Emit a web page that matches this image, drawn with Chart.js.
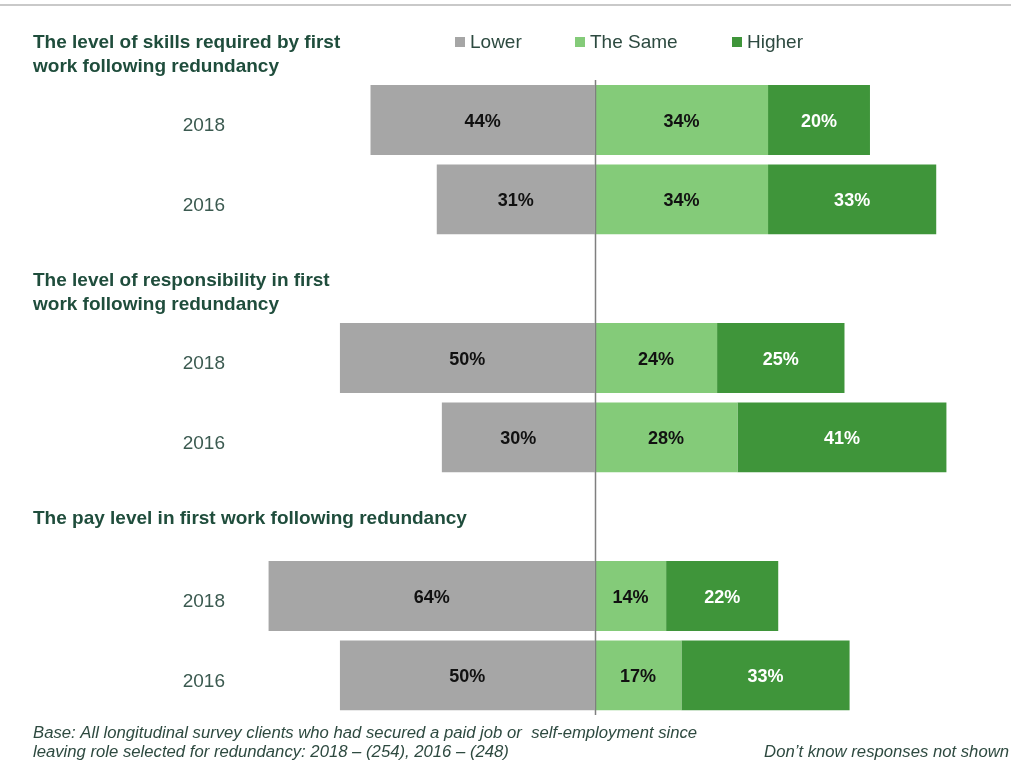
<!DOCTYPE html>
<html>
<head>
<meta charset="utf-8">
<script src="https://cdn.jsdelivr.net/npm/chart.js@4.4.1/dist/chart.umd.min.js"></script>
<style>
  html, body { margin: 0; padding: 0; background: #fff; }
  #wrap { position: relative; width: 1011px; height: 765px; }
</style>
</head>
<body>
<div id="wrap"><canvas id="bar-chart"></canvas></div>
<script>
// question headings, one per group of two years
const groupTitles = [
  ['The level of skills required by first', 'work following redundancy'],
  ['The level of responsibility in first', 'work following redundancy'],
  ['The pay level in first work following redundancy']
];
const years = ['2018', '2016'];

// percentages per group, 2018 then 2016
const lowerPct = [44, 31, 50, 30, 64, 50];
const samePct = [34, 34, 24, 28, 14, 17];
const higherPct = [20, 33, 25, 41, 22, 33];

const seriesNames = ['Lower', 'The Same', 'Higher'];
const seriesColors = ['#a6a6a6', '#84cb79', '#3f953a'];

const footLeft = [
  'Base: All longitudinal survey clients who had secured a paid job or  self-employment since',
  'leaving role selected for redundancy: 2018 \u2013 (254), 2016 \u2013 (248)'
];
const footRight = 'Don\u2019t know responses not shown';

const FONT = "'Liberation Sans', Arial, sans-serif";
const TITLE_COLOUR = '#1f4d3c';
const TEXT_COLOUR = '#3b5a50';

// one empty row ahead of each group carries the heading
const rowLabels = [];
const rowLower = [];
const rowSame = [];
const rowHigher = [];
const titleRows = [];
groupTitles.forEach((title, g) => {
  titleRows.push(rowLabels.length);
  rowLabels.push('');
  rowLower.push(null);
  rowSame.push(null);
  rowHigher.push(null);
  years.forEach((yr, i) => {
    const k = g * years.length + i;
    rowLabels.push(yr);
    rowLower.push(-lowerPct[k]);
    rowSame.push(samePct[k]);
    rowHigher.push(higherPct[k]);
  });
});

const barData = {
  labels: rowLabels,
  datasets: [rowLower, rowSame, rowHigher].map((d, i) => ({
    label: seriesNames[i],
    data: d,
    backgroundColor: seriesColors[i],
    borderWidth: 0,
    barPercentage: 0.88,
    categoryPercentage: 1
  }))
};

const decorations = {
  id: 'decorations',
  beforeDatasetsDraw(chart) {
    const ctx = chart.ctx;
    ctx.save();
    // thin frame line along the top
    ctx.strokeStyle = '#c9c9c9';
    ctx.lineWidth = 2;
    ctx.beginPath();
    ctx.moveTo(0, 5);
    ctx.lineTo(chart.width, 5);
    ctx.stroke();
    ctx.restore();
  },
  afterDatasetsDraw(chart) {
    const ctx = chart.ctx;
    const xs = chart.scales.x;
    const ys = chart.scales.y;
    ctx.save();

    // values inside each segment
    ctx.font = 'bold 18px ' + FONT;
    ctx.textAlign = 'center';
    ctx.textBaseline = 'middle';
    chart.data.datasets.forEach((ds, i) => {
      chart.getDatasetMeta(i).data.forEach((bar, j) => {
        const v = ds.data[j];
        if (v === null) return;
        ctx.fillStyle = i === 2 ? '#ffffff' : '#111111';
        ctx.fillText(Math.abs(v) + '%', (bar.x + bar.base) / 2, bar.y + 2);
      });
    });

    // zero line
    const x0 = Math.round(xs.getPixelForValue(0)) + 0.5;
    ctx.strokeStyle = '#7f7f7f';
    ctx.lineWidth = 1.5;
    ctx.beginPath();
    ctx.moveTo(x0, ys.getPixelForValue(1) - 40);
    ctx.lineTo(x0, chart.chartArea.bottom);
    ctx.stroke();

    // group headings
    ctx.font = 'bold 19px ' + FONT;
    ctx.textAlign = 'left';
    ctx.fillStyle = TITLE_COLOUR;
    titleRows.forEach((r, g) => {
      const yc = ys.getPixelForValue(r);
      groupTitles[g].forEach((line, n) => {
        ctx.fillText(line, 33, yc + 2 + n * 24);
      });
    });

    // legend
    const legendX = [455, 575, 732];
    ctx.font = '19px ' + FONT;
    seriesNames.forEach((name, i) => {
      ctx.fillStyle = seriesColors[i];
      ctx.fillRect(legendX[i], 37, 10, 10);
      ctx.fillStyle = '#2d4a40';
      ctx.fillText(name, legendX[i] + 15, 43);
    });

    // footnotes
    ctx.font = 'italic 16.7px ' + FONT;
    ctx.fillStyle = '#2e4a40';
    footLeft.forEach((line, n) => {
      ctx.fillText(line, 33, 733 + n * 19);
    });
    ctx.textAlign = 'right';
    ctx.fillText(footRight, 1009, 752);
    ctx.restore();
  }
};

window.addEventListener('load', () => {
  const ctx = document.getElementById('bar-chart').getContext('2d');
  window.myBarChart = new Chart(ctx, {
    type: 'bar',
    data: barData,
    plugins: [decorations],
    options: {
      indexAxis: 'y',
      responsive: true,
      maintainAspectRatio: false,
      animation: false,
      plugins: {
        legend: { display: false },
        title: { display: false },
        tooltip: { enabled: false }
      },
      scales: {
        x: {
          stacked: true,
          display: false,
          min: -70,
          max: 75
        },
        y: {
          stacked: true,
          afterFit(scale) {
            scale.width = 238;
            scale.paddingTop = 0;
            scale.paddingBottom = 0;
          },
          grid: { display: false, drawTicks: false },
          border: { display: false },
          ticks: {
            padding: 13,
            labelOffset: 6,
            color: TEXT_COLOUR,
            font: { family: FONT, size: 19 }
          }
        }
      },
      layout: {
        padding: { left: 0, right: 34, top: 1, bottom: 50 }
      }
    }
  });
});
</script>
</body>
</html>
